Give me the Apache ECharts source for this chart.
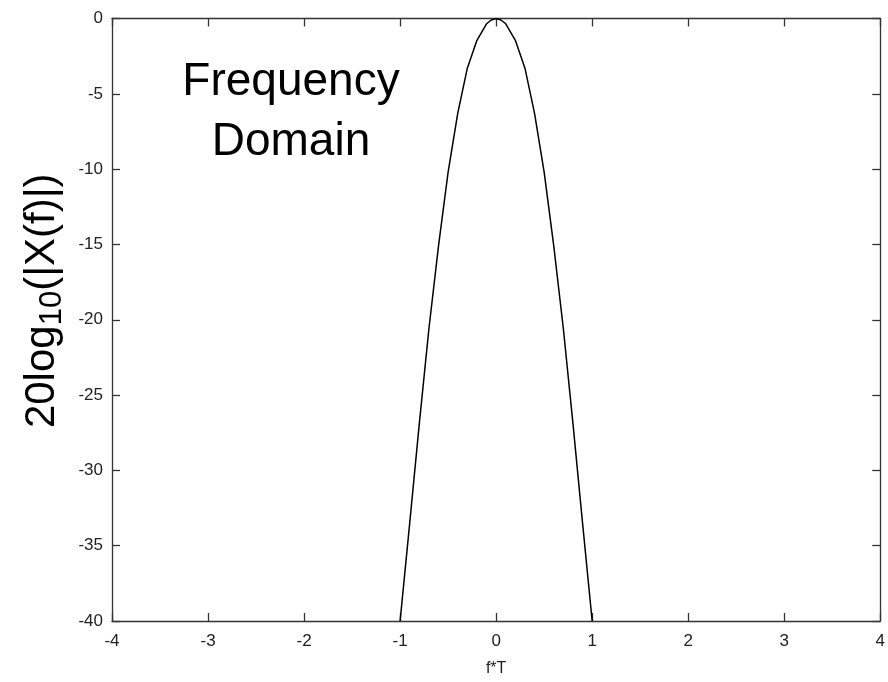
<!DOCTYPE html>
<html>
<head>
<meta charset="utf-8">
<script src="https://cdn.jsdelivr.net/npm/echarts@6/dist/echarts.min.js"></script>
<style>
  html, body { margin: 0; padding: 0; background: #fff; }
  #chart { width: 888px; height: 682px; }
</style>
</head>
<body>
<div id="chart"></div>
<script>
// values
var fT = [-1, -0.9, -0.8, -0.7, -0.6, -0.5, -0.4, -0.3, -0.2, -0.1, -0.05, 0,
          0.05, 0.1, 0.2, 0.3, 0.4, 0.5, 0.6, 0.7, 0.8, 0.9, 1];
var magDb = [-40, -33.5, -26.9, -20.6, -15.1, -10.2, -6.3, -3.3, -1.45, -0.35, -0.1, 0,
             -0.1, -0.35, -1.45, -3.3, -6.3, -10.2, -15.1, -20.6, -26.9, -33.5, -40];
var xTicks = [-4, -3, -2, -1, 0, 1, 2, 3, 4];
var yTicks = [-40, -35, -30, -25, -20, -15, -10, -5, 0];

var points = fT.map(function (x, i) { return [x, magDb[i]]; });

var font = '"Liberation Sans", Arial, sans-serif';
var axisCol = '#333';

function xAxisOpt (pos, showLabel) {
  return {
    type: 'value', position: pos,
    min: xTicks[0], max: xTicks[xTicks.length - 1], interval: 1,
    axisLine: { show: true, onZero: false, lineStyle: { color: axisCol, width: 1.3 } },
    axisTick: { show: true, inside: true, length: 8, lineStyle: { color: axisCol, width: 1.3 } },
    axisLabel: { show: showLabel, margin: 12, color: '#222', fontSize: 17, fontFamily: font },
    splitLine: { show: false }
  };
}
function yAxisOpt (pos, showLabel) {
  return {
    type: 'value', position: pos,
    min: yTicks[0], max: yTicks[yTicks.length - 1], interval: 5,
    axisLine: { show: true, onZero: false, lineStyle: { color: axisCol, width: 1.3 } },
    axisTick: { show: true, inside: true, length: 8, lineStyle: { color: axisCol, width: 1.3 } },
    axisLabel: { show: showLabel, margin: 9, color: '#222', fontSize: 17, fontFamily: font },
    splitLine: { show: false }
  };
}

var xBottom = xAxisOpt('bottom', true);
xBottom.name = 'f*T';
xBottom.nameLocation = 'middle';
xBottom.nameGap = 40;
xBottom.nameTextStyle = { color: '#222', fontSize: 16, fontFamily: font };

var yLeft = yAxisOpt('left', true);
yLeft.name = '{m|20log}{s|10}{m|(|X(f)|)}';
yLeft.nameLocation = 'middle';
yLeft.nameRotate = 90;
yLeft.nameGap = 42;
yLeft.nameTextStyle = {
  color: '#000', fontFamily: font,
  padding: [0, 0, 0, 38],
  rich: {
    m: { fontSize: 42, lineHeight: 50, verticalAlign: 'middle', color: '#000', fontFamily: font },
    s: { fontSize: 31, lineHeight: 23, verticalAlign: 'bottom', color: '#000', fontFamily: font }
  }
};

var chart = echarts.init(document.getElementById('chart'));
chart.setOption({
  animation: false,
  backgroundColor: '#fff',
  title: {
    text: 'Frequency\nDomain',
    left: 291, top: 52, textAlign: 'center', padding: 0,
    textStyle: { fontSize: 46, fontWeight: 'normal', lineHeight: 60, color: '#000', fontFamily: font }
  },
  grid: { left: 112, top: 18.5, right: 7, bottom: 58 },
  xAxis: [xBottom, xAxisOpt('top', false)],
  yAxis: [yLeft, yAxisOpt('right', false)],
  series: [{
    type: 'line',
    data: points,
    showSymbol: false,
    symbol: 'none',
    lineStyle: { color: '#000', width: 1.5 },
    clip: true
  }]
});
</script>
</body>
</html>
